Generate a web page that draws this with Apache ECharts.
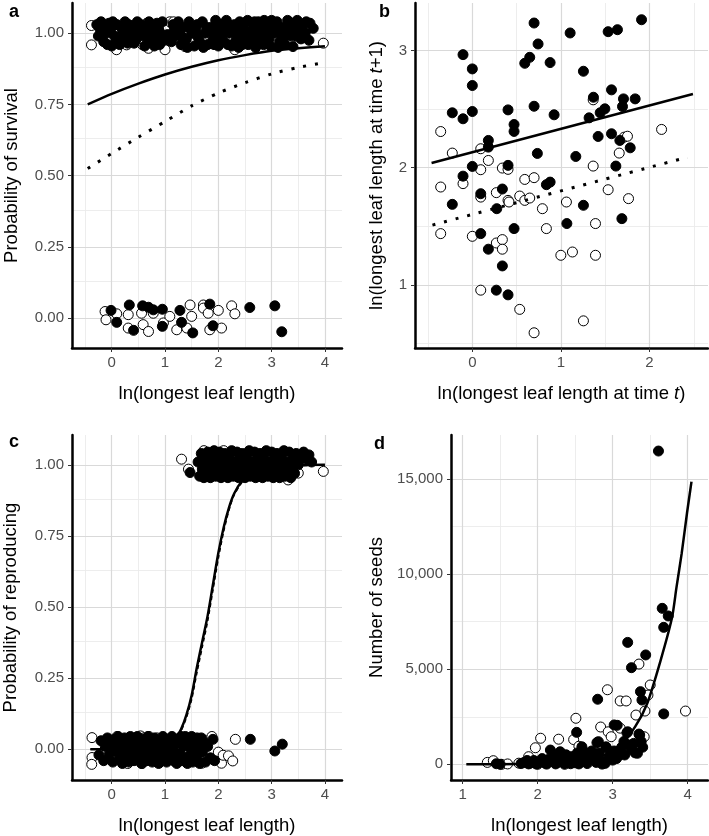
<!DOCTYPE html>
<html>
<head>
<meta charset="utf-8">
<script src="https://cdn.jsdelivr.net/npm/echarts@6.0.0/dist/echarts.min.js"></script>
<style>
html, body { margin: 0; padding: 0; background: #fff; }
#chart { width: 709px; height: 836px; }
</style>
</head>
<body>
<div id="chart"></div>
<script>
// ---- panel a: survival (x = ln leaf length, y = 0/1 jittered) ----
var aTopFilled = [[-0.28,1.03],[-0.2,1.04],[-0.12,1.02],[-0.05,1.035],[0.02,1.04],[0.1,1.03],[0.18,1.02],[0.25,1.04],[0.32,1.03],[0.4,1.02],[0.48,1.04],[0.55,1.03],
  [-0.25,0.99],[-0.15,0.97],[-0.08,0.96],[0.0,0.955],[0.08,0.97],[0.15,0.96],[0.22,0.975],[0.3,0.965],[0.38,0.99],[0.45,0.975],[0.52,1.0],[0.6,0.99],
  [-0.1,1.0],[0.05,0.99],[0.2,1.0],[0.35,1.01],[0.5,1.0],[0.65,1.01],
  [0.7,1.04],[0.78,1.02],[0.85,1.035],[0.92,1.0],[0.72,0.97],[0.82,0.98],[0.9,0.96],[0.98,0.975],[0.62,0.955],[0.75,1.0],
  [1.15,1.03],[1.2,0.99],[1.25,1.04],[1.3,0.96],[1.35,1.02],[1.4,0.98],[1.45,1.04],[1.5,1.0],[1.55,0.955],[1.6,1.03],[1.65,0.97],[1.7,1.04],[1.75,1.0],[1.8,0.96],[1.85,1.02],[1.9,0.98],[1.95,1.045],[2.0,0.955],
  [1.12,0.97],[1.28,1.01],[1.42,0.95],[1.58,1.01],[1.72,0.95],[1.88,1.005],[1.98,1.02],
  [2.05,1.03],[2.1,0.97],[2.15,1.045],[2.2,1.0],[2.25,0.955],[2.3,1.03],[2.35,0.98],[2.4,1.04],[2.45,0.96],[2.5,1.01],[2.55,1.045],[2.6,0.97],[2.65,1.02],[2.7,0.95],[2.75,1.04],[2.8,0.99],[2.85,0.96],[2.9,1.03],[2.95,0.98],[3.0,1.045],
  [2.08,1.0],[2.18,0.96],[2.28,1.015],[2.38,0.95],[2.48,1.035],[2.58,0.99],[2.68,1.04],[2.78,0.965],[2.88,1.005],[2.98,0.955],[2.12,1.02],[2.32,0.97],[2.52,0.98],[2.72,1.01],[2.92,1.02],[2.42,1.0],[2.62,1.0],[2.82,1.03],
  [3.05,1.0],[3.1,1.04],[3.15,0.97],[3.2,1.02],[3.25,0.96],[3.3,1.045],[3.35,0.99],[3.4,1.01],[3.4,0.953],[3.5,1.03],[3.55,0.98],[3.63,1.0],[3.7,0.975],[3.72,1.035],[3.78,1.017],[3.38,1.035],[3.12,0.95],[3.22,0.99],
  [-0.22,1.015],[-0.02,1.01],[0.13,0.985],[0.28,1.005],[0.42,0.965],[0.58,1.02],[0.68,0.985],[0.8,0.955],[0.88,1.015],[0.95,1.04],[1.05,0.995],[1.18,1.015],[1.33,0.985],
  [1.48,1.02],[1.62,0.985],[1.78,1.02],[1.92,0.96],[2.02,0.985],[2.22,1.025],[2.34,1.0],[2.44,1.02],[2.56,0.96],[2.66,0.985],[2.76,1.0],[2.86,1.045],[2.96,1.0],
  [3.08,1.02],[3.18,0.995],[3.28,1.02],[3.45,0.99],[3.58,1.01],[3.48,1.045],[3.65,1.04]];
var aTopOpen = [[-0.38,1.027],[-0.38,0.959],[0.28,0.959],[0.09,0.942],[0.66,1.035],[0.69,0.947],[1.0,0.942],[1.09,1.04],[1.16,1.04],[1.26,1.0],[1.375,0.953],
  [2.31,0.942],[2.76,1.023],[3.06,0.959],[3.06,1.011],[3.35,0.965],[3.97,0.965],[0.58,0.959],[0.1,1.0],[1.55,1.0],[2.2,0.99]];
var aBotOpen = [[-0.125,0.023],[-0.107,-0.006],[0.094,0.015],[0.31,0.012],[0.31,-0.035],[0.56,0.017],[0.59,-0.023],[0.69,-0.047],[0.78,0.017],[0.97,-0.017],[1.09,0.006],
  [1.22,-0.041],[1.41,-0.035],[1.47,0.046],[1.5,0.006],[1.72,0.046],[1.72,0.035],[1.81,0.017],[1.84,-0.041],[2.0,0.027],[2.06,-0.035],[2.25,0.043],[2.31,0.015]];
var aBotFilled = [[-0.013,0.027],[0.094,-0.015],[0.33,0.046],[0.41,-0.043],[0.58,0.043],[0.69,0.038],[0.78,0.029],[0.95,0.031],[0.95,-0.029],[1.28,0.027],
  [1.31,-0.015],[1.52,-0.052],[1.84,0.049],[1.9,-0.027],[2.59,0.037],[3.06,0.043],[3.19,-0.048]];
var aSolid = [[-0.45,0.75],[0,0.787],[0.5,0.823],[1,0.855],[1.5,0.882],[2,0.905],[2.5,0.923],[3,0.938],[3.5,0.947],[4,0.954]];
var aDotted = [[-0.45,0.525],[0,0.578],[0.5,0.635],[1,0.69],[1.5,0.745],[2,0.79],[2.5,0.826],[3,0.857],[3.5,0.88],[4,0.897]];

// ---- panel b: growth ----
var bOpen = [[-0.357,2.309],[-0.226,2.125],[-0.357,1.835],[-0.105,1.864],[0.095,2.162],[0.095,1.983],[0.181,2.062],[0.095,1.749],[0.271,1.787],[0.339,1.997],[0.403,1.986],
  [0.403,1.721],[0.535,1.758],[0.592,1.721],[0.648,1.741],[0.592,1.9],[0.697,1.915],[0.791,1.65],[1.062,1.707],[1.364,2.58],[1.364,2.014],[1.533,1.812],[1.658,2.125],
  [1.714,2.261],[1.751,2.269],[1.763,1.736],[2.136,2.327],[-0.357,1.437],[0,1.414],[0.271,1.357],[0.339,1.386],[0.339,1.304],[0.836,1.48],[0.999,1.252],[1.13,1.28],
  [1.39,1.523],[1.39,1.252],[0.095,0.954],[0.535,0.79],[0.697,0.59],[1.254,0.692],[0.414,1.707]];
var bFilled = [[-0.226,2.469],[-0.105,2.418],[-0.105,2.966],[0,2.844],[0,2.702],[0,2.48],[0,2.011],[-0.105,1.928],[-0.226,1.687],[0.095,1.778],[0.181,2.233],[0.181,2.176],
  [0.276,1.65],[0.339,1.818],[0.403,2.494],[0.403,2.02],[0.471,2.369],[0.471,2.31],[0.592,2.892],[0.648,2.943],[0.697,3.236],[0.742,3.057],[0.697,2.525],[0.734,2.122],
  [0.836,1.855],[0.878,1.877],[0.878,2.898],[0.923,2.452],[1.104,3.151],[1.168,2.096],[1.254,2.824],[1.254,1.679],[1.318,2.426],[1.367,2.602],[1.42,2.267],[1.443,2.469],
  [1.496,2.503],[1.533,3.162],[1.638,3.179],[1.571,2.665],[1.571,2.29],[1.62,2.014],[1.665,2.233],[1.706,2.588],[1.695,2.523],[1.782,2.17],[1.838,2.588],[1.91,3.264],
  [0.095,1.437],[0.181,1.304],[0.339,1.161],[0.471,1.48],[0.271,0.954],[0.403,0.914],[1.067,1.523],[1.688,1.565]];
var bSolid = [[-0.46,2.04],[2.49,2.63]];
var bDotted = [[-0.45,1.51],[2.43,2.09]];

// ---- panel c: reproduction ----
var cTopFilled = [[1.47,0.973],[1.62,1.01],[1.65,0.96],[1.68,1.04],[1.7,0.985],[1.73,0.955],[1.75,1.025],[1.78,0.97],[1.8,1.045],[1.82,1.0],[1.85,0.955],[1.87,1.03],[1.9,0.975],
  [1.92,1.05],[1.95,0.96],[1.97,1.015],[2.0,0.99],[2.02,1.045],[2.05,0.955],[2.08,1.02],[2.1,0.97],[2.12,1.04],[2.15,0.995],[2.18,0.955],[2.2,1.03],[2.23,0.975],[2.25,1.05],
  [2.28,0.96],[2.3,1.01],[2.33,0.985],[2.35,1.045],[2.38,0.955],[2.4,1.02],[2.43,0.97],[2.45,1.04],[2.48,0.995],[2.5,0.955],[2.53,1.03],[2.55,0.975],[2.58,1.05],[2.6,0.96],
  [2.63,1.01],[2.65,0.985],[2.68,1.045],[2.7,0.955],[2.73,1.02],[2.75,0.97],[2.78,1.04],[2.8,0.995],[2.83,0.955],[2.85,1.03],[2.88,0.975],[2.9,1.05],[2.93,0.96],[2.95,1.01],
  [2.98,0.985],[3.0,1.045],[3.03,0.955],[3.05,1.02],[3.08,0.97],[3.1,1.04],[3.13,0.995],[3.15,0.955],[3.18,1.03],[3.2,0.975],[3.23,1.05],[3.25,0.96],[3.28,1.01],[3.3,0.985],
  [3.33,1.045],[3.36,0.955],[3.4,1.02],[3.43,0.97],[3.46,1.04],[3.5,1.0],[3.55,1.03],[3.6,1.045],[3.65,1.02],[3.7,1.035],[3.75,1.01],
  [1.76,1.0],[1.88,0.99],[2.06,1.0],[2.22,1.0],[2.36,1.0],[2.52,1.0],[2.66,1.0],[2.82,1.01],[2.96,0.99],[3.12,1.0],[3.26,0.99],[3.38,1.0],[2.0,1.02],[2.4,0.99],[2.7,0.99]];
var cTopOpen = [[1.31,1.02],[1.44,0.985],[1.73,0.977],[1.73,1.05],[3.97,0.977],[3.5,0.971],[3.31,0.947],[2.1,1.05],[2.35,1.0],[2.9,1.03],[3.05,0.99],[1.95,1.0]];
var cBotFilled = [[-0.24,-0.02],[-0.2,0.03],[-0.15,-0.04],[-0.12,0.01],[-0.08,0.04],[-0.05,-0.02],[0.0,0.02],[0.02,-0.045],[0.06,0.035],[0.1,-0.01],[0.12,0.045],[0.15,-0.035],
  [0.18,0.015],[0.2,-0.05],[0.24,0.04],[0.26,-0.02],[0.3,0.02],[0.32,-0.045],[0.35,0.045],[0.38,-0.01],[0.4,0.03],[0.42,-0.04],[0.45,0.0],[0.48,0.045],[0.5,-0.03],[0.53,0.02],
  [0.56,-0.05],[0.58,0.035],[0.6,-0.015],[0.63,0.01],[0.66,-0.04],[0.68,0.045],[0.7,-0.02],[0.73,0.025],[0.76,-0.045],[0.78,0.0],[0.8,0.04],[0.83,-0.03],[0.86,0.015],[0.88,-0.05],
  [0.9,0.03],[0.93,-0.01],[0.96,0.045],[0.98,-0.035],[1.0,0.01],[1.03,-0.045],[1.06,0.03],[1.08,-0.02],[1.1,0.0],[1.13,0.045],[1.16,-0.04],[1.2,0.02],[1.22,-0.05],[1.25,0.035],
  [1.28,-0.015],[1.3,0.045],[1.32,-0.04],[1.35,0.01],[1.38,-0.03],[1.4,0.04],[1.42,-0.05],[1.45,0.02],[1.47,-0.02],[1.5,0.045],[1.52,-0.045],[1.55,0.0],[1.57,0.03],[1.6,-0.035],
  [1.62,0.015],[1.65,-0.05],[1.68,0.04],[1.7,-0.01],[1.73,0.025],[1.76,-0.045],[1.8,0.01],[1.85,-0.03],[1.9,0.035],[1.93,-0.04],
  [0.05,0.0],[0.22,0.0],[0.36,0.015],[0.55,0.0],[0.72,-0.005],[0.9,0.0],[1.05,0.015],[1.18,-0.01],[1.48,0.005],[1.58,-0.015],[1.66,0.01],[1.52,0.03],[1.6,0.04],[1.38,0.045],
  [2.6,0.035],[3.06,-0.006],[3.2,0.018]];
var cBotOpen = [[-0.37,0.041],[-0.37,-0.029],[-0.375,-0.053],[0.54,0.047],[0.57,-0.05],[0.98,-0.029],[0.6,0.04],[0.85,0.04],[1.0,0.03],[1.1,-0.03],[1.25,0.0],[1.3,-0.025],
  [1.35,0.02],[1.42,-0.005],[1.69,-0.049],[1.8,0.03],[1.88,0.045],[1.91,-0.035],[2.0,-0.01],[2.06,-0.049],[2.09,-0.021],[2.19,-0.023],[2.27,-0.041],[2.32,0.035],[0.3,-0.05],[0.1,0.045],[0.7,0.045]];
var cSolid = [[-0.4,0],[0.5,0.002],[1.0,0.02],[1.2,0.04],[1.3,0.07],[1.4,0.12],[1.5,0.19],[1.6,0.29],[1.7,0.38],[1.8,0.47],[1.9,0.58],[2.0,0.69],[2.1,0.78],[2.2,0.85],[2.3,0.9],
  [2.45,0.945],[2.6,0.97],[2.8,0.985],[3.0,0.993],[3.5,0.999],[4.0,1.0]];
var cDashed = [[-0.4,0],[1.0,0.018],[1.2,0.036],[1.3,0.064],[1.4,0.11],[1.5,0.175],[1.6,0.27],[1.7,0.36],[1.8,0.45],[1.9,0.56],[2.0,0.67],[2.1,0.765],[2.2,0.84],[2.3,0.895],
  [2.45,0.94],[2.6,0.968],[2.8,0.984],[3.0,0.992],[4.0,1.0]];

// ---- panel d: seeds ----
var dFilled = [[3.61,16470],[3.66,8200],[3.74,7800],[3.68,7200],[3.2,6410],[3.44,5750],[3.25,5080],[3.37,3820],[3.39,3380],[2.8,3420],[3.68,2650],[3.02,2070],[2.52,1680],
  [3.2,1710],[3.36,1540],[2.81,1190],[3.16,490],[3.33,580],[3.23,1015],[2.79,1140],[2.91,920],[3.06,2050],[3.19,1660],[3.35,1590],[3.1,600],[3.05,300],
  [1.45,30],[1.5,0],[1.78,40],[1.82,100],[1.86,200],[1.9,60],[1.95,200],[1.98,20],[2.02,120],[2.06,300],[2.1,60],[2.14,250],[2.17,750],[2.2,150],[2.22,450],[2.26,80],
  [2.3,660],[2.32,300],[2.35,100],[2.38,500],[2.42,200],[2.45,400],[2.48,400],[2.5,80],[2.53,600],[2.56,250],[2.59,920],[2.6,750],[2.62,150],[2.65,500],[2.68,300],
  [2.72,700],[2.76,400],[2.78,100],[2.82,600],[2.87,140],[2.9,50],[2.92,840],[2.95,350],[3.0,220],[3.02,700],[3.08,450],[3.12,900],[3.15,1200],[3.25,800],[3.28,1100],
  [3.3,600],[3.38,1200],[3.4,900],[1.88,20],[2.0,0],[2.12,10],[2.24,20],[2.36,0],[2.44,30],[2.55,20],[2.66,40],[2.86,10]];
var dOpen = [[1.33,100],[1.41,190],[1.52,0],[1.6,20],[1.88,400],[1.97,870],[2.04,1370],[2.28,1320],[2.51,2420],[2.48,1300],[2.55,950],[2.84,1960],[2.93,3920],[2.94,1710],
  [2.98,1450],[3.1,1900],[3.1,3330],[3.18,3330],[3.35,5270],[3.5,4170],[3.47,3640],[3.31,2590],[3.43,2800],[3.42,1450],[3.34,1190],[3.97,2800],[2.0,100],[2.3,150],[1.75,60],[2.7,300]];
var dCurve = [[1.05,0],[1.5,5],[2.0,30],[2.44,90],[2.84,400],[3.1,1000],[3.3,1980],[3.46,3200],[3.64,5480],[3.79,7700],[3.85,9300],[3.92,11100],[3.99,13200],[4.05,14860]];

// ---- ticks ----
var leafTicks = [0, 1, 2, 3, 4];
var leafMinor = [-0.5, 0.5, 1.5, 2.5, 3.5];
var probTicks = [0, 0.25, 0.5, 0.75, 1];
var probMinor = [0.125, 0.375, 0.625, 0.875];
var growXTicks = [0, 1, 2];
var growXMinor = [-0.5, 0.5, 1.5, 2.5];
var growYTicks = [1, 2, 3];
var growYMinor = [0.5, 1.5, 2.5];
var seedXTicks = [1, 2, 3, 4];
var seedXMinor = [1.5, 2.5, 3.5];
var seedYTicks = [0, 5000, 10000, 15000];
var seedYMinor = [2500, 7500, 12500];

var FONT = '"Liberation Sans", Arial, Helvetica, sans-serif';
var myChart = echarts.init(document.getElementById('chart'));

function axis(dim, gi, min, max, ticks, fmt, name, gap) {
    return {
        type: 'value', gridIndex: gi, min: min, max: max, z: 4,
        name: name, nameLocation: 'middle', nameGap: gap,
        nameTextStyle: { fontSize: 18.5, color: '#000', fontFamily: FONT,
            rich: { i: { fontStyle: 'italic', fontSize: 18.5, color: '#000', fontFamily: FONT } } },
        axisLine: { show: true, onZero: false, lineStyle: { color: '#000', width: 2.5 } },
        axisTick: { show: true, customValues: ticks, length: 4, lineStyle: { color: '#333', width: 1 } },
        axisLabel: { customValues: ticks, formatter: fmt, color: '#4d4d4d', fontSize: 15, fontFamily: FONT, margin: dim === 'x' ? 7 : 8 },
        splitLine: { show: false }
    };
}

// gridlines drawn through the axes' own scales
function gridLines(gi, xMaj, xMin, yMaj, yMin) {
    var d = [];
    var maj = { color: '#d9d9d9', width: 1.2, type: 'solid' };
    var mnr = { color: '#ebebeb', width: 0.9, type: 'solid' };
    xMin.forEach(function (v) { d.push({ xAxis: v, lineStyle: mnr }); });
    yMin.forEach(function (v) { d.push({ yAxis: v, lineStyle: mnr }); });
    xMaj.forEach(function (v) { d.push({ xAxis: v, lineStyle: maj }); });
    yMaj.forEach(function (v) { d.push({ yAxis: v, lineStyle: maj }); });
    return {
        type: 'scatter', xAxisIndex: gi, yAxisIndex: gi, data: [], silent: true, z: 0,
        markLine: { silent: true, symbol: ['none', 'none'], label: { show: false }, animation: false, z: 0,
            emphasis: { disabled: true }, data: d }
    };
}

function pts(gi, data, filled) {
    return {
        type: 'scatter', xAxisIndex: gi, yAxisIndex: gi, data: data, symbolSize: 10, z: 2,
        itemStyle: { color: filled ? '#000' : '#fff', borderColor: '#000', borderWidth: 1, opacity: 1 },
        emphasis: { disabled: true }, silent: true
    };
}

function curve(gi, data, type, width) {
    return {
        type: 'line', xAxisIndex: gi, yAxisIndex: gi, data: data, showSymbol: false, symbol: 'none',
        smooth: 0.25, z: 3, silent: true,
        lineStyle: { color: '#000', width: width, type: type, cap: 'butt' }
    };
}

var f2 = function (v) { return v.toFixed(2); };
var f0 = function (v) { return String(v); };
var fc = function (v) { return v.toLocaleString('en-US'); };

var option = {
    animation: false,
    backgroundColor: '#fff',
    textStyle: { fontFamily: FONT },
    grid: [
        { left: 72, top: 3, width: 270, height: 345 },
        { left: 415, top: 3, width: 293, height: 345 },
        { left: 72, top: 435, width: 270, height: 346 },
        { left: 451, top: 435, width: 257, height: 345 }
    ],
    xAxis: [
        axis('x', 0, -0.745, 4.32, leafTicks, f0, 'ln(longest leaf length)', 36),
        axis('x', 1, -0.647, 2.66, growXTicks, f0, 'ln(longest leaf length at time {i|t})', 36),
        axis('x', 2, -0.745, 4.32, leafTicks, f0, 'ln(longest leaf length)', 36),
        axis('x', 3, 0.846, 4.27, seedXTicks, f0, 'ln(longest leaf length)', 36)
    ],
    yAxis: [
        axis('y', 0, -0.105, 1.106, probTicks, f2, 'Probability of survival', 51),
        axis('y', 1, 0.46, 3.407, growYTicks, f0, 'ln(longest leaf length at time {i|t}+1)', 29),
        axis('y', 2, -0.108, 1.105, probTicks, f2, 'Probability of reproducing', 52),
        axis('y', 3, -825, 17313, seedYTicks, fc, 'Number of seeds', 65)
    ],
    graphic: [
        { type: 'text', x: 9, y: 12, style: { text: 'a', font: 'bold 18px ' + FONT, fill: '#000', verticalAlign: 'middle' } },
        { type: 'text', x: 379, y: 12, style: { text: 'b', font: 'bold 18px ' + FONT, fill: '#000', verticalAlign: 'middle' } },
        { type: 'text', x: 9, y: 442, style: { text: 'c', font: 'bold 18px ' + FONT, fill: '#000', verticalAlign: 'middle' } },
        { type: 'text', x: 374, y: 444, style: { text: 'd', font: 'bold 18px ' + FONT, fill: '#000', verticalAlign: 'middle' } }
    ],
    series: [
        gridLines(0, leafTicks, leafMinor, probTicks, probMinor),
        gridLines(1, growXTicks, growXMinor, growYTicks, growYMinor),
        gridLines(2, leafTicks, leafMinor, probTicks, probMinor),
        gridLines(3, seedXTicks, seedXMinor, seedYTicks, seedYMinor),

        pts(0, aTopOpen, false), pts(0, aTopFilled, true), pts(0, aBotOpen, false), pts(0, aBotFilled, true),
        curve(0, aSolid, 'solid', 2.5), curve(0, aDotted, [3, 9], 3),

        pts(1, bOpen, false), pts(1, bFilled, true),
        curve(1, bSolid, 'solid', 2.5), curve(1, bDotted, [3, 9], 3),

        pts(2, cTopOpen, false), pts(2, cTopFilled, true), pts(2, cBotOpen, false), pts(2, cBotFilled, true),
        curve(2, cSolid, 'solid', 2.5), curve(2, cDashed, [4, 3], 1.5),

        pts(3, dOpen, false), pts(3, dFilled, true),
        curve(3, dCurve, 'solid', 2.5)
    ]
};

myChart.setOption(option);

window.addEventListener('resize', function () {
    myChart.resize();
});
</script>
</body>
</html>
